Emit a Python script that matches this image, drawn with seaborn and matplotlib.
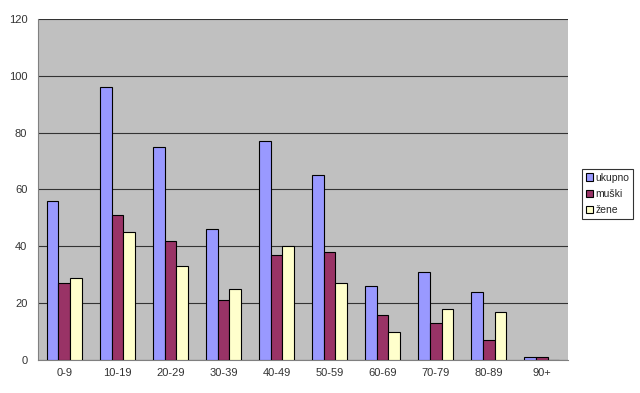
import seaborn as sns
import matplotlib.pyplot as plt
import pandas as pd
import numpy as np

# podaci
kategorije = ['0-9', '10-19', '20-29', '30-39', '40-49', '50-59', '60-69', '70-79', '80-89', '90+']
ukupno = [56, 96, 75, 46, 77, 65, 26, 31, 24, 1]
muski = [27, 51, 42, 21, 37, 38, 16, 13, 7, 1]
zene = [29, 45, 33, 25, 40, 27, 10, 18, 17, 0]

df = pd.DataFrame({'dob': kategorije * 3,
                   'broj': ukupno + muski + zene,
                   'serija': ['ukupno'] * 10 + ['muški'] * 10 + ['žene'] * 10})

sns.set_style("white")
plt.rcParams['font.family'] = ['Liberation Sans', 'DejaVu Sans']

fig = plt.figure(figsize=(6.4, 3.93), dpi=100)
ax = fig.add_axes([0.059, 0.084, 0.829, 0.868])
ax.set_facecolor('#C0C0C0')

boje = ['#9999FF', '#993366', '#FFFFCC']
sns.barplot(data=df, x='dob', y='broj', hue='serija', palette=boje, width=0.66,
            saturation=1, edgecolor='black', linewidth=0.8, ax=ax, zorder=3)

ax.set_ylim(0, 120)
ax.set_yticks(np.arange(0, 121, 20))
ax.set_xlim(-0.5, len(kategorije) - 0.5)
ax.yaxis.grid(True, color='#333333', linewidth=0.8, zorder=0)
ax.set_axisbelow(True)
ax.set_xlabel('')
ax.set_ylabel('')

for s in ['top', 'right']:
    ax.spines[s].set_visible(False)
ax.spines['left'].set_color('#808080')
ax.spines['bottom'].set_color('#808080')

ax.set_xticks(np.arange(-0.5, len(kategorije), 1), minor=True)
ax.tick_params(axis='x', which='major', length=0, labelsize=8, pad=6, colors='#333333')
ax.tick_params(axis='x', which='minor', length=4, direction='out', color='#808080')
ax.tick_params(axis='y', length=4, direction='out', color='#808080', labelsize=8, colors='#333333')
ax.xaxis.set_tick_params(bottom=True)

leg = ax.legend(loc='center left', bbox_to_anchor=(1.026, 0.487), frameon=True, fontsize=7.5,
                handlelength=0.7, handleheight=0.7, handletextpad=0.25, borderpad=0.35,
                labelspacing=0.6, fancybox=False, borderaxespad=0)
leg.get_frame().set_edgecolor('black')
leg.get_frame().set_linewidth(0.8)

fig.savefig('out.png', dpi=100)
